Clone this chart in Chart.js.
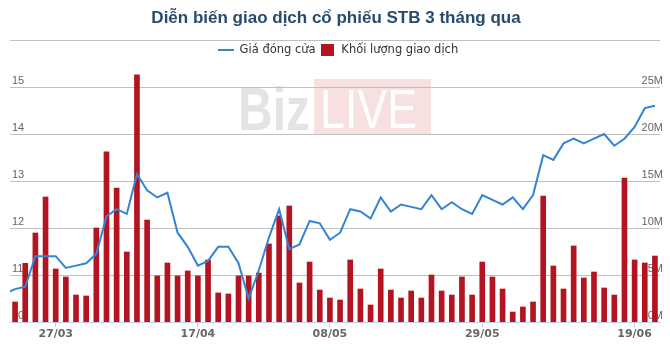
<!DOCTYPE html>
<html lang="vi">
<head>
<meta charset="utf-8">
<title>Diễn biến giao dịch cổ phiếu STB 3 tháng qua</title>
<script src="https://cdn.jsdelivr.net/npm/chart.js@4.4.1/dist/chart.umd.min.js"></script>
<style>
  html, body { margin: 0; padding: 0; background: #ffffff; }
  canvas { display: block; }
</style>
</head>
<body>
<canvas id="stb" width="670" height="350"></canvas>
<script>
// Phiên giao dịch 2017 (phiên đầu là phiên liền trước, chỉ để nối đường giá ra mép trái)
const sessions = [
  '20/03','21/03','22/03','23/03','24/03','27/03','28/03','29/03','30/03','31/03',
  '03/04','04/04','05/04','07/04','10/04','11/04','12/04','13/04','14/04','17/04',
  '18/04','19/04','20/04','21/04','24/04','25/04','26/04','27/04','28/04','03/05',
  '04/05','05/05','08/05','09/05','10/05','11/05','12/05','15/05','16/05','17/05',
  '18/05','19/05','22/05','23/05','24/05','25/05','26/05','29/05','30/05','31/05',
  '01/06','02/06','05/06','06/06','07/06','08/06','09/06','12/06','13/06','14/06',
  '15/06','16/06','19/06','20/06','21/06'
];

// Giá đóng cửa (nghìn đồng), cùng độ dài với sessions
const closePrice = [
  10.60,
  10.70, 10.75, 11.40, 11.40, 11.40, 11.15, 11.20, 11.25, 11.45, 12.25,
  12.40, 12.30, 13.15, 12.80, 12.65, 12.75, 11.90, 11.60, 11.20, 11.30,
  11.60, 11.60, 11.25, 10.50, 11.10, 11.80, 12.40, 11.55, 11.65, 12.15,
  12.10, 11.75, 11.90, 12.40, 12.35, 12.20, 12.65, 12.35, 12.50, 12.45,
  12.40, 12.70, 12.40, 12.55, 12.40, 12.30, 12.70, 12.60, 12.50, 12.65,
  12.40, 12.70, 13.55, 13.45, 13.80, 13.90, 13.80, 13.90, 14.00, 13.75,
  13.90, 14.15, 14.55, 14.60
];

// Khối lượng khớp lệnh (triệu cổ phiếu), từ phiên 21/03
const volumeM = [
  2.13, 6.24, 9.47, 13.30, 5.64, 4.79, 2.87, 2.77, 10.00, 18.09,
  14.26, 7.45, 26.30, 10.85, 4.90, 6.28, 4.90, 5.43, 4.90, 6.60,
  3.09, 2.98, 4.90, 4.90, 5.21, 8.30, 11.28, 12.34, 4.15, 6.38,
  3.40, 2.55, 2.34, 6.60, 3.51, 1.81, 5.64, 3.40, 2.55, 3.30,
  2.55, 5.00, 3.30, 2.87, 4.79, 2.87, 6.38, 4.79, 3.51, 1.06,
  1.60, 2.13, 13.40, 5.96, 3.51, 8.09, 4.68, 5.32, 3.62, 2.87,
  15.30, 6.60, 6.28, 7.02
];

// Nhãn ngày hiển thị trên trục hoành
const dateTicks = ['27/03', '17/04', '08/05', '29/05', '19/06'];
// Khoảng và bước của hai trục tung
const priceAxis = { min: 10, max: 16, step: 1 };
const volumeAxis = { min: 0, max: 30, step: 5 };

const BLUE = '#3384d6';
const RED = '#b3141f';
const GRID = '#c0c0c0';
const AXIS = '#c0d0e0';

function swatch(w, h, color) {
  const c = document.createElement('canvas');
  c.width = w; c.height = h;
  const g = c.getContext('2d');
  g.fillStyle = color;
  g.fillRect(0, 0, w, h);
  return c;
}
const legendSymbols = [swatch(16, 2, BLUE), swatch(13, 12, RED)];

// Chữ in chìm BizLIVE phía sau lưới
function drawSqueezed(ctx, text, x, y, width, align) {
  const s = width / ctx.measureText(text).width;
  ctx.save();
  ctx.translate(align === 'right' ? x - width : x, y);
  ctx.scale(s, 1);
  ctx.textAlign = 'left';
  ctx.fillText(text, 0, 0);
  ctx.restore();
}
const watermark = {
  id: 'watermark',
  beforeDraw(chart) {
    const { ctx, chartArea: a } = chart;
    const cx = (a.left + a.right) / 2;
    ctx.save();
    ctx.fillStyle = '#f7e0e0';
    ctx.fillRect(cx - 21, a.top + 39, 117, 56);
    ctx.textBaseline = 'alphabetic';
    ctx.font = 'bold 62px "Liberation Sans"';
    ctx.fillStyle = '#e4e4e4';
    drawSqueezed(ctx, 'Biz', cx - 25, a.top + 90, 72, 'right');
    ctx.font = '55px "Liberation Sans"';
    ctx.fillStyle = '#ffffff';
    drawSqueezed(ctx, 'LIVE', cx - 15, a.top + 88, 97, 'left');
    ctx.restore();
  }
};

// Chú giải nằm ngay dưới đường lưới trên cùng, không chiếm chỗ của vùng vẽ
const legendInPlot = {
  id: 'legendInPlot',
  beforeLayout(chart) {
    const legend = chart.legend;
    if (!legend || legend._inPlot) return;
    legend._inPlot = true;
    const fit = legend.fit.bind(legend);
    legend.fit = function () {
      fit();
      this._fullHeight = this.height;
      this.height = 0;
    };
  },
  afterLayout(chart) {
    const legend = chart.legend;
    if (!legend) return;
    legend.top = chart.chartArea.top;
    legend.height = legend._fullHeight;
    legend.bottom = legend.top + legend.height;
    legend.left += 2;
    legend.right += 2;
  }
};

new Chart(document.getElementById('stb'), {
  data: {
    labels: sessions,
    datasets: [
      {
        type: 'line',
        label: 'Giá đóng cửa',
        data: closePrice,
        yAxisID: 'yPrice',
        borderColor: BLUE,
        backgroundColor: BLUE,
        borderWidth: 2,
        pointRadius: 0,
        tension: 0,
        order: 0
      },
      {
        type: 'bar',
        label: 'Khối lượng giao dịch',
        data: [null, ...volumeM],
        yAxisID: 'yVol',
        backgroundColor: RED,
        barThickness: 5,
        order: 1
      }
    ]
  },
  options: {
    responsive: false,
    animation: false,
    events: [],
    layout: { padding: { left: 6, right: 4, top: 0, bottom: 7.8 } },
    scales: {
      x: {
        type: 'category',
        offset: true,
        min: sessions[1],
        grid: {
          display: true,
          drawOnChartArea: false,
          drawTicks: true,
          tickLength: 5,
          offset: false,
          color: (c) => (c.tick && c.tick.label ? AXIS : 'rgba(0,0,0,0)')
        },
        border: { display: true, color: AXIS, width: 1 },
        ticks: {
          autoSkip: false,
          maxRotation: 0,
          minRotation: 0,
          padding: 1,
          color: '#666666',
          font: { family: 'DejaVu Sans', weight: 'bold', size: 11 },
          callback(v) {
            const l = this.getLabelForValue(v);
            return dateTicks.includes(l) ? l : '';
          }
        }
      },
      yPrice: {
        position: 'left',
        min: priceAxis.min,
        max: priceAxis.max,
        grid: {
          drawTicks: false,
          color: (c) => (c.tick && c.tick.value === priceAxis.min ? 'rgba(0,0,0,0)' : GRID)
        },
        border: { display: false },
        ticks: {
          stepSize: priceAxis.step,
          mirror: true,
          padding: 2,
          labelOffset: -6,
          color: '#666666',
          font: { family: 'Liberation Sans', size: 11 },
          callback: (v) => (v === priceAxis.max ? '' : String(v))
        }
      },
      yVol: {
        position: 'right',
        min: volumeAxis.min,
        max: volumeAxis.max,
        grid: { display: false, drawTicks: false },
        border: { display: false },
        ticks: {
          stepSize: volumeAxis.step,
          mirror: true,
          padding: 3,
          labelOffset: -6,
          color: '#666666',
          font: { family: 'Liberation Sans', size: 11 },
          callback: (v) => (v === volumeAxis.max ? '' : v + 'M')
        }
      }
    },
    plugins: {
      title: {
        display: true,
        text: 'Diễn biến giao dịch cổ phiếu STB 3 tháng qua',
        color: '#274b6d',
        font: { family: 'Liberation Sans', size: 17, weight: 'bold' },
        padding: { top: 8, bottom: 11.6 }
      },
      legend: {
        display: true,
        position: 'top',
        labels: {
          usePointStyle: true,
          pointStyleWidth: 16,
          padding: 4,
          color: '#333333',
          font: { family: 'DejaVu Sans', size: 11.5 },
          generateLabels(chart) {
            const items = Chart.defaults.plugins.legend.labels.generateLabels(chart);
            items.forEach((it) => { it.pointStyle = legendSymbols[it.datasetIndex]; });
            return items;
          }
        }
      },
      tooltip: { enabled: false }
    }
  },
  plugins: [watermark, legendInPlot]
});
</script>
</body>
</html>
